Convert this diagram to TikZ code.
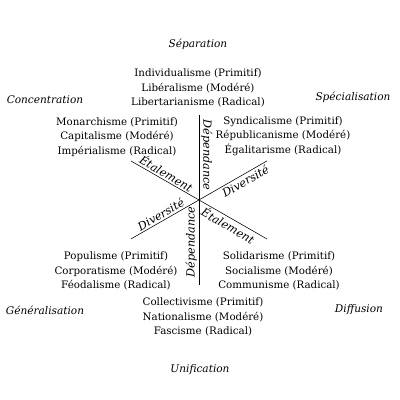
\documentclass[tikz,border=0pt]{standalone}
\usepackage{fontspec}
\setmainfont{DejaVu Serif}
\usepackage{tikz}

\begin{document}
\begin{tikzpicture}[scale=0.025]
\tikzstyle{every node}+=[inner sep=0pt]
\tikzstyle{bloc}=[align=center, font=\fontsize{7.3}{10.3}\selectfont]
\tikzstyle{pole}=[font=\fontsize{7.5}{9}\selectfont\itshape]
\tikzstyle{axe}=[font=\fontsize{8}{9}\selectfont\itshape, inner sep=1.2pt, anchor=south]
\useasboundingbox (0,0) rectangle (400,-400);
% axes
\coordinate (c) at (199,-200);
\coordinate (n) at (199,-115);
\coordinate (s) at (199,-285);
\coordinate (nw) at (131,-161);
\coordinate (se) at (267,-239);
\coordinate (sw) at (131,-239);
\coordinate (ne) at (267,-161);
\draw [black] (n) -- (s);
\draw [black] (nw) -- (se);
\draw [black] (sw) -- (ne);
\node [axe, rotate=-90] (dep1) at (199,-155) {Dépendance};
\node [axe, rotate=90] (dep2) at (199,-242) {Dépendance};
\node [axe, rotate=-30] (eta1) at (163,-179.4) {Étalement};
\node [axe, rotate=-30, anchor=north] (eta2) at (232,-218.9) {Étalement};
\node [axe, rotate=30, anchor=north] (div1) at (242,-175.3) {Diversité};
\node [axe, rotate=30] (div2) at (164,-220.1) {Diversité};
% poles
\node [pole] (sep) at (198,-44) {Séparation};
\node [pole] (con) at (45,-100) {Concentration};
\node [pole] (spe) at (353,-97) {Spécialisation};
\node [pole] (gen) at (45,-310) {Généralisation};
\node [pole] (dif) at (359,-310) {Diffusion};
\node [pole] (uni) at (200,-370) {Unification};
% ideologies
\node [bloc] (ind) at (198,-88) {Individualisme (Primitif)\\Libéralisme (Modéré)\\Libertarianisme (Radical)};
\node [bloc] (mon) at (117,-137) {Monarchisme (Primitif)\\Capitalisme (Modéré)\\Impérialisme (Radical)};
\node [bloc] (syn) at (283,-136) {Syndicalisme (Primitif)\\Républicanisme (Modéré)\\Égalitarisme (Radical)};
\node [bloc] (pop) at (116,-271) {Populisme (Primitif)\\Corporatisme (Modéré)\\Féodalisme (Radical)};
\node [bloc] (sol) at (279,-271) {Solidarisme (Primitif)\\Socialisme (Modéré)\\Communisme (Radical)};
\node [bloc] (col) at (203,-317) {Collectivisme (Primitif)\\Nationalisme (Modéré)\\Fascisme (Radical)};
\end{tikzpicture}
\end{document}
